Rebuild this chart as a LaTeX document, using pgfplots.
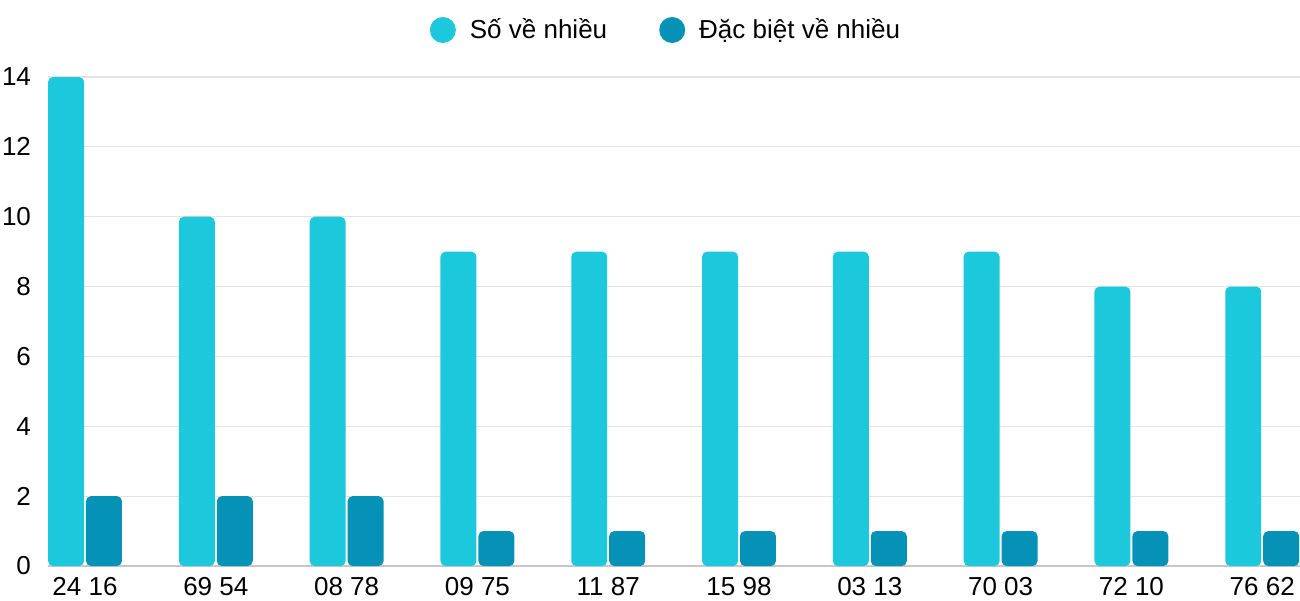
\documentclass[border=0pt]{standalone}
\usepackage{pgfplots}
\pgfplotsset{compat=1.18}
\usepackage{fontspec}
\setmainfont{Liberation Sans}
\definecolor{c1}{RGB}{27,200,220}
\definecolor{c2}{RGB}{5,146,182}
\definecolor{gridc}{RGB}{228,228,228}
\begin{document}
\begin{tikzpicture}
\useasboundingbox (0,0) rectangle (650pt,300pt);
\begin{axis}[
  at={(24pt,17pt)}, anchor=south west,
  scale only axis, width=626pt, height=244.5pt,
  xmin=-0.283, xmax=9.289, ymin=0, ymax=14,
  ybar, bar width=0.275,
  axis line style={draw=none},
  ytick={0,2,...,14},
  ymajorgrids, grid style={draw=gridc, line width=0.6pt},
  extra y ticks={0}, extra y tick labels={},
  extra y tick style={grid style={draw=black!22, line width=0.7pt}},
  major tick length=0pt,
  xtick={0,...,9},
  xticklabels={24 16,69 54,08 78,09 75,11 87,15 98,03 13,70 03,72 10,76 62},
  tick label style={font=\fontsize{13}{15}\selectfont},
  /pgf/number format/assume math mode=true,
  yticklabel style={xshift=-5pt},
  xticklabel style={yshift=-2pt},
  legend columns=2,
  legend image code/.code={\fill[#1] (0pt,0pt) circle (6.5pt);},
  legend style={at={(0.5,1)}, anchor=center, yshift=23.5pt, xshift=-3.5pt,
    draw=none, fill=none, font=\fontsize{13}{15}\selectfont,
    /tikz/every odd column/.append style={column sep=5pt},
    /tikz/every even column/.append style={column sep=24pt}},
]
\addplot[fill=c1, draw=none, rounded corners=2.5pt, bar shift=-0.145] coordinates {
  (0,14) (1,10) (2,10) (3,9) (4,9) (5,9) (6,9) (7,9) (8,8) (9,8)};
\addplot[fill=c2, draw=none, rounded corners=2.5pt, bar shift=0.145] coordinates {
  (0,2) (1,2) (2,2) (3,1) (4,1) (5,1) (6,1) (7,1) (8,1) (9,1)};
\legend{Số về nhiều, Đặc biệt về nhiều}
\end{axis}
\end{tikzpicture}
\end{document}
